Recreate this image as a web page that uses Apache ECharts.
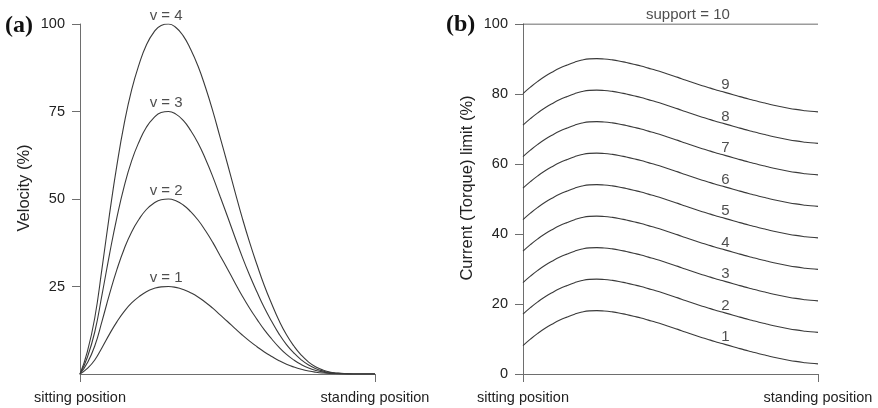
<!DOCTYPE html>
<html>
<head>
<meta charset="utf-8">
<title>Velocity and current limit profiles</title>
<script src="https://cdn.jsdelivr.net/npm/echarts@6.0.0/dist/echarts.min.js"></script>
<style>
  html, body { margin: 0; padding: 0; background: #fff; }
  #chart { width: 878px; height: 408px; }
</style>
</head>
<body>
<div id="chart"></div>
<script>
// positions along the movement, 0 = sitting, 1 = standing
const positions = [0, 0.025, 0.05, 0.075, 0.1, 0.125, 0.15, 0.175, 0.2, 0.225, 0.25,
  0.275, 0.3, 0.325, 0.35, 0.375, 0.4, 0.425, 0.45, 0.475, 0.5,
  0.525, 0.55, 0.575, 0.6, 0.625, 0.65, 0.675, 0.7, 0.725, 0.75,
  0.775, 0.8, 0.825, 0.85, 0.875, 0.9, 0.925, 0.95, 0.975, 1];
const positionLabels = ['sitting position', 'standing position'];

// (a) velocity profiles, %
const velocity1 = [0, 1.6, 4.0, 7.6, 11.4, 14.9, 17.9, 20.3, 22.1, 23.5, 24.4, 24.9, 25.0, 24.75, 24.15, 23.2, 22.0, 20.5, 18.8, 16.9, 15.0,
  13.05, 11.15, 9.4, 7.8, 6.3, 5.0, 3.8, 2.8, 2.0, 1.35, 0.85, 0.5, 0.27, 0.13, 0.06, 0.02, 0, 0, 0, 0];
const velocity2 = [0, 3.2, 8.0, 15.2, 22.8, 29.8, 35.8, 40.6, 44.2, 47.0, 48.8, 49.8, 50.0, 49.5, 48.3, 46.4, 44.0, 41.0, 37.6, 33.8, 30.0,
  26.1, 22.3, 18.8, 15.6, 12.6, 10.0, 7.6, 5.6, 4.0, 2.7, 1.7, 1.0, 0.54, 0.26, 0.12, 0.04, 0, 0, 0, 0];
const velocity3 = [0, 4.8, 12.0, 22.8, 34.2, 44.7, 53.7, 60.9, 66.3, 70.5, 73.2, 74.7, 75.0, 74.25, 72.45, 69.6, 66.0, 61.5, 56.4, 50.7, 45.0,
  39.15, 33.45, 28.2, 23.4, 18.9, 15.0, 11.4, 8.4, 6.0, 4.05, 2.55, 1.5, 0.81, 0.39, 0.18, 0.06, 0, 0, 0, 0];
const velocity4 = [0, 6.4, 16.0, 30.4, 45.6, 59.6, 71.6, 81.2, 88.4, 94.0, 97.6, 99.6, 100.0, 99.0, 96.6, 92.8, 88.0, 82.0, 75.2, 67.6, 60.0,
  52.2, 44.6, 37.6, 31.2, 25.2, 20.0, 15.2, 11.2, 8.0, 5.4, 3.4, 2.0, 1.08, 0.52, 0.24, 0.08, 0, 0, 0, 0];
const velocityNames = ['v = 1', 'v = 2', 'v = 3', 'v = 4'];
const velocityPeakAt = 0.292;
const velocityPeaks = [25, 50, 75, 100];

// (b) current (torque) limit per support level, %
const support1 = [8.1, 9.95, 11.6, 13.05, 14.3, 15.4, 16.3, 17.1, 17.72, 18.04, 18.1, 18.0, 17.78, 17.45, 16.98, 16.5, 16.0, 15.4, 14.8, 14.15, 13.45,
  12.75, 12.0, 11.3, 10.6, 9.95, 9.3, 8.7, 8.1, 7.5, 6.9, 6.35, 5.8, 5.3, 4.8, 4.35, 3.95, 3.6, 3.3, 3.05, 2.9];
const support2 = [17.1, 18.95, 20.6, 22.05, 23.3, 24.4, 25.3, 26.1, 26.72, 27.04, 27.1, 27.0, 26.78, 26.45, 25.98, 25.5, 25.0, 24.4, 23.8, 23.15, 22.45,
  21.75, 21.0, 20.3, 19.6, 18.95, 18.3, 17.7, 17.1, 16.5, 15.9, 15.35, 14.8, 14.3, 13.8, 13.35, 12.95, 12.6, 12.3, 12.05, 11.9];
const support3 = [26.1, 27.95, 29.6, 31.05, 32.3, 33.4, 34.3, 35.1, 35.72, 36.04, 36.1, 36.0, 35.78, 35.45, 34.98, 34.5, 34.0, 33.4, 32.8, 32.15, 31.45,
  30.75, 30.0, 29.3, 28.6, 27.95, 27.3, 26.7, 26.1, 25.5, 24.9, 24.35, 23.8, 23.3, 22.8, 22.35, 21.95, 21.6, 21.3, 21.05, 20.9];
const support4 = [35.1, 36.95, 38.6, 40.05, 41.3, 42.4, 43.3, 44.1, 44.72, 45.04, 45.1, 45.0, 44.78, 44.45, 43.98, 43.5, 43.0, 42.4, 41.8, 41.15, 40.45,
  39.75, 39.0, 38.3, 37.6, 36.95, 36.3, 35.7, 35.1, 34.5, 33.9, 33.35, 32.8, 32.3, 31.8, 31.35, 30.95, 30.6, 30.3, 30.05, 29.9];
const support5 = [44.1, 45.95, 47.6, 49.05, 50.3, 51.4, 52.3, 53.1, 53.72, 54.04, 54.1, 54.0, 53.78, 53.45, 52.98, 52.5, 52.0, 51.4, 50.8, 50.15, 49.45,
  48.75, 48.0, 47.3, 46.6, 45.95, 45.3, 44.7, 44.1, 43.5, 42.9, 42.35, 41.8, 41.3, 40.8, 40.35, 39.95, 39.6, 39.3, 39.05, 38.9];
const support6 = [53.1, 54.95, 56.6, 58.05, 59.3, 60.4, 61.3, 62.1, 62.72, 63.04, 63.1, 63.0, 62.78, 62.45, 61.98, 61.5, 61.0, 60.4, 59.8, 59.15, 58.45,
  57.75, 57.0, 56.3, 55.6, 54.95, 54.3, 53.7, 53.1, 52.5, 51.9, 51.35, 50.8, 50.3, 49.8, 49.35, 48.95, 48.6, 48.3, 48.05, 47.9];
const support7 = [62.1, 63.95, 65.6, 67.05, 68.3, 69.4, 70.3, 71.1, 71.72, 72.04, 72.1, 72.0, 71.78, 71.45, 70.98, 70.5, 70.0, 69.4, 68.8, 68.15, 67.45,
  66.75, 66.0, 65.3, 64.6, 63.95, 63.3, 62.7, 62.1, 61.5, 60.9, 60.35, 59.8, 59.3, 58.8, 58.35, 57.95, 57.6, 57.3, 57.05, 56.9];
const support8 = [71.1, 72.95, 74.6, 76.05, 77.3, 78.4, 79.3, 80.1, 80.72, 81.04, 81.1, 81.0, 80.78, 80.45, 79.98, 79.5, 79.0, 78.4, 77.8, 77.15, 76.45,
  75.75, 75.0, 74.3, 73.6, 72.95, 72.3, 71.7, 71.1, 70.5, 69.9, 69.35, 68.8, 68.3, 67.8, 67.35, 66.95, 66.6, 66.3, 66.05, 65.9];
const support9 = [80.1, 81.95, 83.6, 85.05, 86.3, 87.4, 88.3, 89.1, 89.72, 90.04, 90.1, 90.0, 89.78, 89.45, 88.98, 88.5, 88.0, 87.4, 86.8, 86.15, 85.45,
  84.75, 84.0, 83.3, 82.6, 81.95, 81.3, 80.7, 80.1, 79.5, 78.9, 78.35, 77.8, 77.3, 76.8, 76.35, 75.95, 75.6, 75.3, 75.05, 74.9];
const support10 = [100, 100];
const support10At = [0, 1];
const supportNames = ['1', '2', '3', '4', '5', '6', '7', '8', '9'];
const supportLabelAt = 0.686;
const supportLabelValues = [8.4, 17.4, 26.4, 35.4, 44.4, 53.4, 62.4, 71.4, 80.4];
const support10Label = 'support = 10';
const support10LabelAt = 0.559;

const chart = echarts.init(document.getElementById('chart'));

const font = '"Liberation Sans", Arial, sans-serif';
const textColor = '#222';
const lineColor = '#3a3a3a';
const axisColor = '#6e6e6e';

function curve(values, idx, xs) {
  xs = xs || positions;
  return {
    type: 'line',
    xAxisIndex: idx,
    yAxisIndex: idx,
    data: xs.map((x, i) => [x, values[i]]),
    smooth: true,
    symbol: 'none',
    silent: true,
    lineStyle: { color: lineColor, width: 1.1 },
    z: 3
  };
}

function labels(points, idx, distance) {
  return {
    type: 'scatter',
    xAxisIndex: idx,
    yAxisIndex: idx,
    data: points,
    symbolSize: 0,
    silent: true,
    clip: false,
    label: {
      show: true,
      position: 'top',
      distance: distance,
      formatter: p => p.data[2],
      color: textColor,
      fontSize: 15,
      fontFamily: font
    }
  };
}

function xAxisFor(idx) {
  return {
    type: 'value',
    gridIndex: idx,
    min: 0,
    max: 1,
    interval: 1,
    axisLine: { show: true, lineStyle: { color: axisColor, width: 1 } },
    axisTick: { show: true, length: 8, lineStyle: { color: axisColor } },
    splitLine: { show: false },
    axisLabel: {
      margin: 16,
      color: textColor,
      fontSize: 14.5,
      fontFamily: font,
      formatter: v => positionLabels[v]
    }
  };
}

function yAxisFor(idx, name, interval, ticks) {
  return {
    type: 'value',
    gridIndex: idx,
    min: 0,
    max: 100,
    interval: interval,
    name: name,
    nameLocation: 'middle',
    nameGap: 47,
    nameTextStyle: { color: textColor, fontSize: 16.5, fontFamily: font, padding: [0, 0, 0, 22] },
    axisLine: { show: true, lineStyle: { color: axisColor, width: 1 } },
    axisTick: { show: true, length: 8, lineStyle: { color: axisColor }, customValues: ticks },
    splitLine: { show: false },
    axisLabel: { margin: 15, color: textColor, fontSize: 14.5, fontFamily: font, customValues: ticks }
  };
}

const velocitySeries = [velocity1, velocity2, velocity3, velocity4].map(v => curve(v, 0));
const supportSeries = [support1, support2, support3, support4, support5,
  support6, support7, support8, support9].map(v => curve(v, 1));

const option = {
  animation: false,
  backgroundColor: '#fff',
  textStyle: { fontFamily: font },
  grid: [
    { left: 80, top: 24, width: 295, bottom: 34 },
    { left: 523, top: 24, width: 295, bottom: 34 }
  ],
  xAxis: [xAxisFor(0), xAxisFor(1)],
  yAxis: [
    yAxisFor(0, 'Velocity (%)', 25, [25, 50, 75, 100]),
    yAxisFor(1, 'Current (Torque) limit (%)', 20, [0, 20, 40, 60, 80, 100])
  ],
  graphic: [
    { type: 'text', left: 5, top: 14, style: { text: '(a)', font: 'bold 24px "Liberation Serif", "Times New Roman", serif', fill: '#111' } },
    { type: 'text', left: 446, top: 13, style: { text: '(b)', font: 'bold 24px "Liberation Serif", "Times New Roman", serif', fill: '#111' } }
  ],
  series: [
    ...velocitySeries,
    labels(velocityNames.map((n, i) => [velocityPeakAt, velocityPeaks[i], n]), 0, 1),
    ...supportSeries,
    curve(support10, 1, support10At),
    labels(supportNames.map((n, i) => [supportLabelAt, supportLabelValues[i], n]), 1, 0),
    labels([[support10LabelAt, 100, support10Label]], 1, 2)
  ]
};

chart.setOption(option);
window.addEventListener('resize', () => chart.resize());
</script>
</body>
</html>
